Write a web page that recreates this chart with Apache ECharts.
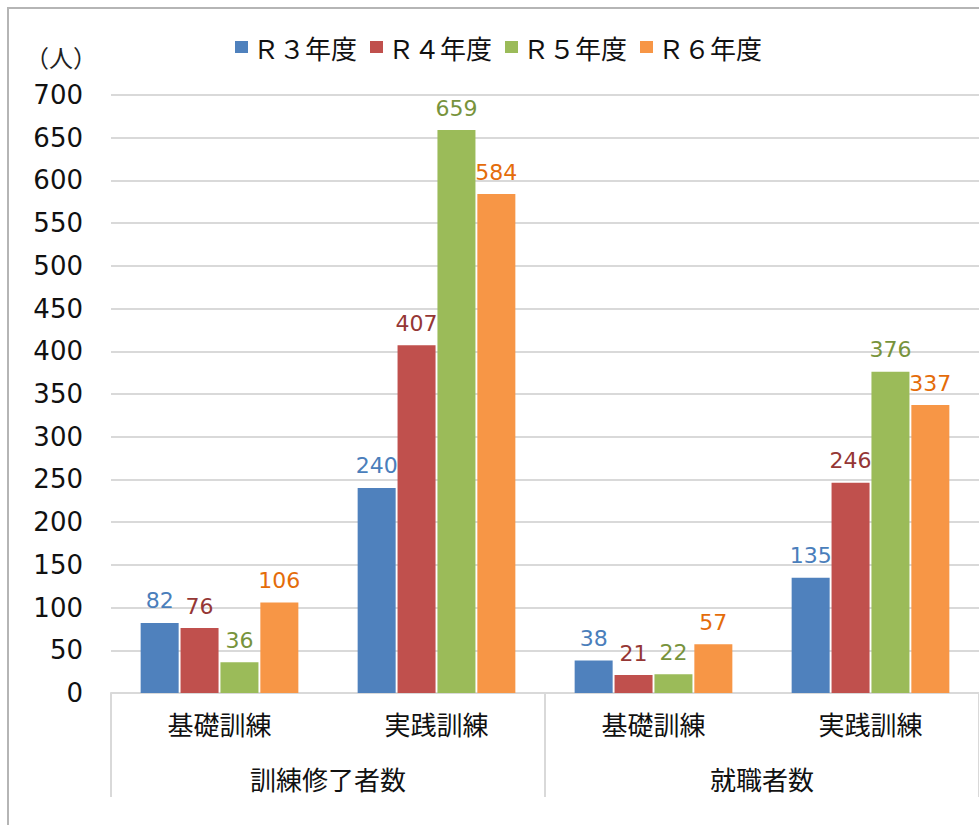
<!DOCTYPE html>
<html>
<head>
<meta charset="utf-8">
<script src="https://cdn.jsdelivr.net/npm/echarts@6/dist/echarts.min.js"></script>
<style>
  html, body { margin: 0; padding: 0; background: #fff; }
  #chart { width: 979px; height: 825px; }
</style>
</head>
<body>
<div id="chart"></div>
<script>
(function() {
  var categories = ['基礎訓練', '実践訓練', '基礎訓練', '実践訓練'];
  var groups = ['訓練修了者数', '就職者数'];
  var seriesNames = ['Ｒ３年度', 'Ｒ４年度', 'Ｒ５年度', 'Ｒ６年度'];
  var r3 = [82, 240, 38, 135];
  var r4 = [76, 407, 21, 246];
  var r5 = [36, 659, 22, 376];
  var r6 = [106, 584, 57, 337];
  var yTicks = [0, 700, 50];

  var fill = ['#4F81BD', '#C0504D', '#9BBB59', '#F79646'];
  var labelColor = ['#4A7EBB', '#953735', '#77933C', '#E46C0A'];
  var font = '"DejaVu Sans", "Noto Sans CJK JP", sans-serif';
  var cjk = '"Noto Sans CJK JP", sans-serif';
  var rule = '#d9d9d9';

  var values = [r3, r4, r5, r6];
  var series = values.map(function(v, i) {
    return {
      name: seriesNames[i],
      type: 'bar',
      xAxisIndex: 0,
      data: v,
      barWidth: 38,
      barGap: '5%',
      itemStyle: { color: fill[i] },
      label: {
        show: true,
        position: 'top',
        distance: 11,
        color: labelColor[i],
        fontSize: 22,
        fontFamily: font
      }
    };
  });

  var chart = echarts.init(document.getElementById('chart'), null, { renderer: 'svg' });
  chart.setOption({
    animation: false,
    backgroundColor: '#fff',
    textStyle: { fontFamily: font },
    graphic: [
      {
        type: 'rect',
        shape: { x: 8, y: 8, width: 990, height: 830 },
        style: { fill: 'none', stroke: '#b5b5b5', lineWidth: 2 }
      },
      {
        type: 'text',
        left: 25,
        top: 44,
        style: { text: '（人）', fontSize: 24, fill: '#222', fontFamily: cjk }
      }
    ],
    legend: {
      data: seriesNames,
      left: 230,
      top: 29,
      itemWidth: 13,
      itemHeight: 12,
      itemGap: 13,
      icon: 'rect',
      textStyle: { fontSize: 26, color: '#111', fontFamily: cjk, padding: [0, 0, 0, 0] }
    },
    grid: { left: 111, right: 0, top: 95, bottom: 132 },
    xAxis: [
      {
        type: 'category',
        data: categories,
        position: 'bottom',
        axisLine: { lineStyle: { color: rule, width: 2 } },
        axisTick: { show: false },
        axisLabel: { color: '#111', fontSize: 26, margin: 17, fontFamily: cjk }
      },
      {
        type: 'category',
        data: groups,
        position: 'bottom',
        axisLine: { show: false },
        axisTick: { show: true, length: 104, lineStyle: { color: rule, width: 2 } },
        axisLabel: { color: '#111', fontSize: 26, margin: 72, fontFamily: cjk }
      }
    ],
    yAxis: {
      type: 'value',
      min: yTicks[0],
      max: yTicks[1],
      interval: yTicks[2],
      axisLine: { show: false },
      axisTick: { show: false },
      axisLabel: { color: '#111', fontSize: 26, margin: 28, fontFamily: font },
      splitLine: { lineStyle: { color: rule, width: 2 } }
    },
    series: series.concat([{
      type: 'bar',
      xAxisIndex: 1,
      data: [],
      silent: true
    }])
  });
})();
</script>
</body>
</html>
